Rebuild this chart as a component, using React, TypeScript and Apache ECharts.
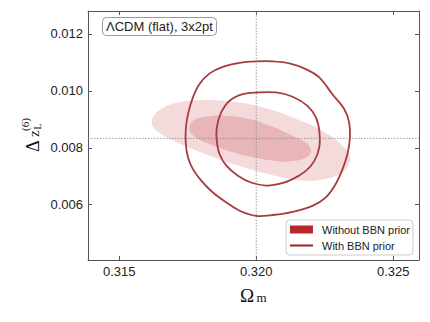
import React, { useEffect, useRef } from "react";
import * as echarts from "echarts";

// Axis ranges and ticks
const X_MIN = 0.31386;
const X_MAX = 0.32594;
const Y_MIN = 0.00406;
const Y_MAX = 0.0128;
const xTicks = [0.315, 0.32, 0.325];
const yTicks = [0.006, 0.008, 0.01, 0.012];

// Fiducial crosshair
const fiducialOm = 0.32;
const fiducialDz = 0.00833;

// Contour boundaries [Omega_m, Delta z_L^(6)]
const withoutOuter: [number, number][] = [
  [0.31618, 0.00889], [0.31636, 0.00924], [0.31684, 0.00951], [0.31757, 0.00965],
  [0.31842, 0.00967], [0.31939, 0.00959], [0.32036, 0.00939], [0.32133, 0.00906],
  [0.3223, 0.00866], [0.32302, 0.00819], [0.32339, 0.00778], [0.32341, 0.00748],
  [0.32315, 0.00713], [0.32254, 0.0069], [0.32181, 0.00684], [0.32084, 0.00698],
  [0.31975, 0.00725], [0.31866, 0.0076], [0.31769, 0.00795], [0.31684, 0.00831],
  [0.31636, 0.0086],
];
const withoutInner: [number, number][] = [
  [0.31755, 0.00866], [0.31769, 0.00895], [0.31818, 0.0091], [0.31891, 0.00912],
  [0.31975, 0.00901], [0.3206, 0.00874], [0.32133, 0.00842], [0.32187, 0.00813],
  [0.322, 0.00789], [0.32187, 0.00768], [0.32145, 0.00754], [0.32084, 0.00752],
  [0.32, 0.00764], [0.31915, 0.00784], [0.3183, 0.00813], [0.31775, 0.00839],
];
const withOuter: [number, number][] = [
  [0.32, 0.01103], [0.31939, 0.01098], [0.31878, 0.01084], [0.3183, 0.01061],
  [0.31793, 0.01024], [0.31769, 0.00977], [0.31751, 0.00918], [0.31743, 0.00866],
  [0.31743, 0.00813], [0.31751, 0.00766], [0.31769, 0.00725], [0.318, 0.00684],
  [0.31842, 0.00643], [0.31891, 0.00608], [0.31939, 0.00579], [0.32, 0.00561],
  [0.3206, 0.00564], [0.32133, 0.00575], [0.32205, 0.00596], [0.32254, 0.00626],
  [0.3229, 0.00673], [0.32315, 0.00725], [0.32333, 0.00778], [0.32342, 0.00836],
  [0.32339, 0.00889], [0.32321, 0.00936], [0.32278, 0.00988], [0.3223, 0.01047],
  [0.32181, 0.01076], [0.32121, 0.01096], [0.3206, 0.01103],
];
const withInner: [number, number][] = [
  [0.32005, 0.00994], [0.31951, 0.00988], [0.31903, 0.00965], [0.31872, 0.00924],
  [0.31856, 0.00871], [0.31856, 0.00825], [0.31866, 0.00778], [0.31891, 0.00737],
  [0.31933, 0.00702], [0.31981, 0.00678], [0.32036, 0.00667], [0.32084, 0.00673],
  [0.32133, 0.0069], [0.32181, 0.00719], [0.32212, 0.00754], [0.3223, 0.00801],
  [0.3223, 0.0086], [0.32218, 0.00906], [0.32187, 0.00947], [0.32133, 0.00979],
  [0.32072, 0.00994],
];

const titleText = "ΛCDM (flat), 3x2pt";
const legendNames = ["Without BBN prior", "With BBN prior"];

const SANS = "Liberation Sans";
const SERIF = "Liberation Serif";
const AXIS_COLOR = "#555";

function contourSeries(
  name: string,
  pts: [number, number][],
  fill: string | null,
  stroke: string | null,
  z: number
): any {
  return {
    type: "custom",
    name,
    z,
    data: [[fiducialOm, fiducialDz]],
    renderItem: (params: any, api: any) => {
      const points = pts.map((p) => api.coord(p));
      return {
        type: "polygon",
        shape: { points, smooth: 0.35 },
        style: fill
          ? { fill, stroke: "none" }
          : { fill: "none", stroke: stroke, lineWidth: 1.8 },
        silent: true,
      };
    },
    itemStyle: { color: fill || stroke },
  };
}

function crossLine(data: [number, number][]): any {
  return {
    type: "line",
    name: "fiducial",
    data,
    z: 3,
    silent: true,
    symbol: "none",
    lineStyle: { type: [1.5, 1.5], color: "#888", width: 0.8 },
  };
}

export default function App() {
  const ref = useRef<HTMLDivElement>(null);
  useEffect(() => {
    if (!ref.current) return;
    document.body.style.margin = "0";
    const chart = echarts.init(ref.current, undefined, { renderer: "svg" });
    const tickLabel = {
      fontSize: 13,
      color: "#222",
      fontFamily: SANS,
    };
    chart.setOption({
      animation: false,
      backgroundColor: "#fff",
      grid: { left: 88, top: 11, right: 11, bottom: 62, containLabel: false },
      title: {
        text: titleText,
        left: 102,
        top: 17,
        padding: [3, 4, 3, 4],
        borderColor: "#999",
        borderWidth: 1,
        borderRadius: 4,
        backgroundColor: "#fff",
        textStyle: { fontSize: 13, fontWeight: "normal", color: "#222", fontFamily: SANS },
      },
      legend: {
        orient: "vertical",
        left: 286,
        top: 220,
        padding: [4, 3, 4, 4],
        itemGap: 5,
        itemWidth: 23,
        itemHeight: 8,
        borderColor: "#ccc",
        borderWidth: 1,
        borderRadius: 4,
        backgroundColor: "#fff",
        selectedMode: false,
        textStyle: { fontSize: 11, color: "#222", fontFamily: SANS, padding: [0, 0, 0, 4] },
        data: [
          { name: legendNames[0], icon: "rect", itemStyle: { color: "#b82430" } },
          {
            name: legendNames[1],
            icon: "path://M0 0H46V4H0Z",
            itemStyle: { color: "#a11c1c" },
          },
        ],
      },
      xAxis: [
        {
          type: "value",
          min: X_MIN,
          max: X_MAX,
          position: "bottom",
          axisLine: { show: true, onZero: false, lineStyle: { color: AXIS_COLOR, width: 1 } },
          axisTick: { show: true, inside: true, length: 4, customValues: xTicks, lineStyle: { color: AXIS_COLOR } },
          axisLabel: {
            ...tickLabel,
            margin: 5,
            customValues: xTicks,
            formatter: (v: number) => v.toFixed(3),
          },
          splitLine: { show: false },
        },
        {
          type: "value",
          min: X_MIN,
          max: X_MAX,
          position: "top",
          axisLine: { show: true, onZero: false, lineStyle: { color: AXIS_COLOR, width: 1 } },
          axisTick: { show: true, inside: true, length: 4, customValues: xTicks, lineStyle: { color: AXIS_COLOR } },
          axisLabel: { show: false },
          splitLine: { show: false },
        },
      ],
      yAxis: [
        {
          type: "value",
          min: Y_MIN,
          max: Y_MAX,
          position: "left",
          axisLine: { show: true, onZero: false, lineStyle: { color: AXIS_COLOR, width: 1 } },
          axisTick: { show: true, inside: true, length: 4, customValues: yTicks, lineStyle: { color: AXIS_COLOR } },
          axisLabel: {
            ...tickLabel,
            margin: 5,
            customValues: yTicks,
            formatter: (v: number) => v.toFixed(3),
          },
          splitLine: { show: false },
        },
        {
          type: "value",
          min: Y_MIN,
          max: Y_MAX,
          position: "right",
          axisLine: { show: true, onZero: false, lineStyle: { color: AXIS_COLOR, width: 1 } },
          axisTick: { show: true, inside: true, length: 4, customValues: yTicks, lineStyle: { color: AXIS_COLOR } },
          axisLabel: { show: false },
          splitLine: { show: false },
        },
      ],
      series: [
        contourSeries(legendNames[0], withoutOuter, "#f5dadb", null, 1),
        contourSeries(legendNames[0], withoutInner, "#e8b6b8", null, 2),
        crossLine([[fiducialOm, Y_MIN], [fiducialOm, Y_MAX]]),
        crossLine([[X_MIN, fiducialDz], [X_MAX, fiducialDz]]),
        contourSeries(legendNames[1], withOuter, null, "#a83b3e", 4),
        contourSeries(legendNames[1], withInner, null, "#a83b3e", 4),
      ],
      graphic: [
        {
          type: "text",
          x: 240,
          y: 295,
          style: { text: "Ω", fontSize: 19, fontFamily: SERIF, fill: "#111", align: "left", verticalAlign: "middle" },
        },
        {
          type: "text",
          x: 256.5,
          y: 297,
          style: { text: "m", fontSize: 13, fontFamily: SERIF, fill: "#111", align: "left", verticalAlign: "middle" },
        },
        {
          type: "group",
          x: 37,
          y: 152,
          rotation: Math.PI / 2,
          children: [
            { type: "text", x: 0, y: -4, style: { text: "Δ", fontSize: 18, fontFamily: SERIF, fill: "#111", verticalAlign: "middle" } },
            { type: "text", x: 15, y: -3, style: { text: "z", fontSize: 15, fontFamily: SERIF, fill: "#111", verticalAlign: "middle" } },
            { type: "text", x: 22.5, y: 0, style: { text: "L", fontSize: 10, fontFamily: SERIF, fill: "#111", verticalAlign: "middle" } },
            { type: "text", x: 21, y: -12, style: { text: "(6)", fontSize: 11, fontFamily: SERIF, fill: "#111", verticalAlign: "middle" } },
          ],
        },
      ],
    });
    return () => chart.dispose();
  }, []);
  return <div ref={ref} style={{ width: 430, height: 322 }} />;
}
